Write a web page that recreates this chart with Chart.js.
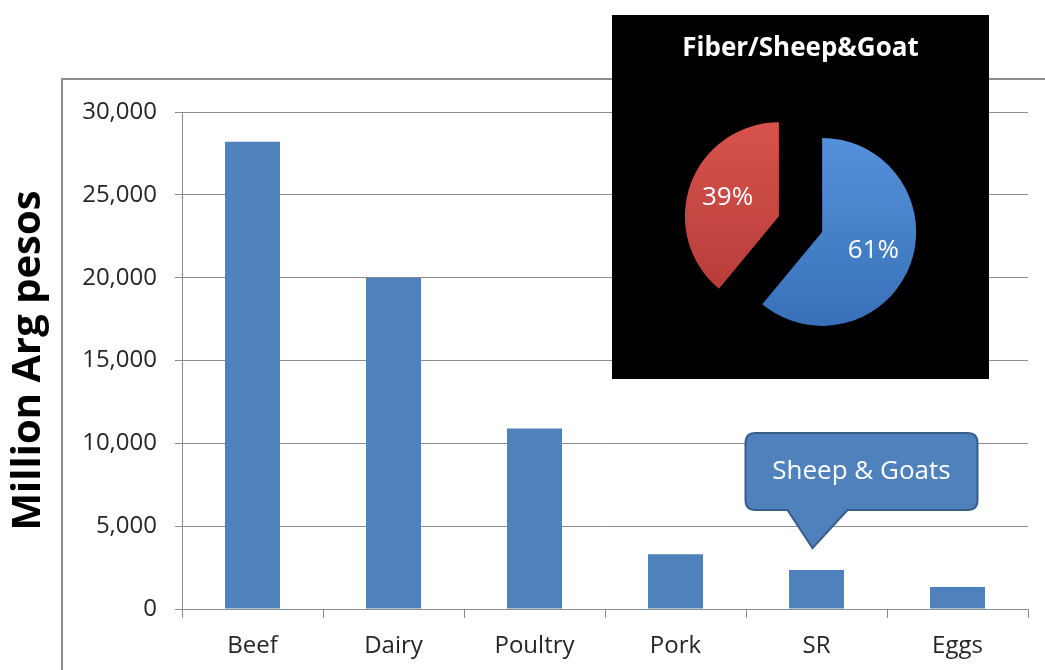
<!DOCTYPE html>
<html>
<head>
<meta charset="utf-8">
<script src="https://cdn.jsdelivr.net/npm/chart.js@4"></script>
<style>
  html, body { margin: 0; padding: 0; background: #fff; overflow: hidden; }
  #wrap { position: relative; width: 1045px; height: 670px; overflow: hidden; }
  #frame { position: absolute; left: 61px; top: 78px; width: 1100px; height: 700px; border: 2px solid #8c8c8c; }
  #barChart { position: absolute; left: 0; top: 0; }
  #pieBox { position: absolute; left: 612px; top: 15px; width: 377px; height: 364px; background: #000; }
</style>
</head>
<body>
<div id="wrap">
  <div id="frame"></div>
  <canvas id="barChart" width="1045" height="670"></canvas>
  <div id="pieBox"><canvas id="pieChart" width="377" height="364"></canvas></div>
</div>
<script>
// Livestock production value
const categories = ['Beef', 'Dairy', 'Poultry', 'Pork', 'SR', 'Eggs'];
const values = [28200, 20000, 10900, 3300, 2350, 1330];
const yTicks = [0, 5000, 10000, 15000, 20000, 25000, 30000];

// inset pie
const pieLabels = ['Meat', 'Fiber'];
const pieValues = [61, 39];
const pieTitle = 'Fiber/Sheep&Goat';

const calloutText = 'Sheep & Goats';
const calloutIndex = categories.indexOf('SR');

const barColor = '#4f81bd';
const gridColor = '#8c8c8c';
const fontFamily = '"Open Sans", "Noto Sans", sans-serif';
const explode = 23; // how far each slice is pulled out

// callout bubble pointing at the SR bar
const calloutPlugin = {
  id: 'callout',
  afterDraw(chart) {
    const bar = chart.getDatasetMeta(0).data[calloutIndex];
    const ctx = chart.ctx;
    const tipX = bar.x - 4, tipY = bar.y - 22;
    const left = tipX - 67, right = tipX + 165, bottom = tipY - 38, top = tipY - 115;
    const r = 10;
    ctx.save();
    ctx.beginPath();
    ctx.moveTo(left + r, top);
    ctx.lineTo(right - r, top);
    ctx.quadraticCurveTo(right, top, right, top + r);
    ctx.lineTo(right, bottom - r);
    ctx.quadraticCurveTo(right, bottom, right - r, bottom);
    ctx.lineTo(tipX + 35, bottom);
    ctx.lineTo(tipX, tipY);
    ctx.lineTo(tipX - 25, bottom);
    ctx.lineTo(left + r, bottom);
    ctx.quadraticCurveTo(left, bottom, left, bottom - r);
    ctx.lineTo(left, top + r);
    ctx.quadraticCurveTo(left, top, left + r, top);
    ctx.closePath();
    ctx.fillStyle = barColor;
    ctx.fill();
    ctx.lineWidth = 2;
    ctx.strokeStyle = '#385d8a';
    ctx.stroke();
    ctx.fillStyle = '#fff';
    ctx.font = '26px ' + fontFamily;
    ctx.textAlign = 'center';
    ctx.textBaseline = 'middle';
    ctx.fillText(calloutText, (left + right) / 2, (top + bottom) / 2);
    ctx.restore();
  }
};

const barChart = new Chart(document.getElementById('barChart'), {
  type: 'bar',
  data: {
    labels: categories,
    datasets: [{
      label: 'Million Arg pesos',
      data: values,
      backgroundColor: barColor,
      categoryPercentage: 1,
      barPercentage: 0.39
    }]
  },
  options: {
    responsive: false,
    animation: false,
    layout: { padding: { top: 112, right: 17, left: 0, bottom: 0 } },
    plugins: { legend: { display: false }, tooltip: { enabled: false } },
    scales: {
      x: {
        grid: { drawOnChartArea: false, drawTicks: true, tickLength: 9, color: gridColor, offset: true },
        border: { color: gridColor, width: 1 },
        ticks: { color: '#262626', padding: 14, font: { family: fontFamily, size: 24 } },
        afterFit(scale) { scale.height = 61; }
      },
      y: {
        min: 0,
        max: 30000,
        afterBuildTicks(scale) { scale.ticks = yTicks.map(v => ({ value: v })); },
        grid: { color: gridColor, tickLength: 7 },
        border: { color: gridColor, width: 1 },
        ticks: {
          color: '#262626',
          padding: 18,
          font: { family: fontFamily, size: 24 },
          callback: v => v.toLocaleString('en-US')
        },
        title: {
          display: true,
          text: 'Million Arg pesos',
          color: '#000',
          padding: { top: 5, bottom: 0 },
          font: { family: fontFamily, size: 40, weight: 'bold' }
        },
        afterFit(scale) { scale.width = 182; }
      }
    }
  },
  plugins: [calloutPlugin]
});

// pie slice shading, top lighter than bottom
const pieShades = [['#5d9be6', '#2f66ad'], ['#e35a55', '#a8332f']];
const pieFill = (c) => {
  const pair = pieShades[c.dataIndex % pieShades.length];
  const area = c.chart.chartArea;
  if (!area) return pair[0];
  const g = c.chart.ctx.createLinearGradient(0, area.top, 0, area.bottom);
  g.addColorStop(0, pair[0]);
  g.addColorStop(1, pair[1]);
  return g;
};

// exploded pie: draw each arc shifted out along its mid angle
const explodePlugin = {
  id: 'explode',
  beforeDatasetDraw(chart, args) {
    const ctx = chart.ctx;
    args.meta.data.forEach(arc => {
      const mid = (arc.startAngle + arc.endAngle) / 2;
      ctx.save();
      ctx.translate(Math.cos(mid) * explode, Math.sin(mid) * explode);
      arc.draw(ctx, chart.chartArea);
      ctx.restore();
    });
    return false;
  }
};

const pieLabelPlugin = {
  id: 'pieLabels',
  afterDatasetsDraw(chart) {
    const ctx = chart.ctx;
    const total = pieValues.reduce((a, b) => a + b, 0);
    ctx.save();
    ctx.fillStyle = '#fff';
    ctx.font = '26px ' + fontFamily;
    ctx.textAlign = 'center';
    ctx.textBaseline = 'middle';
    chart.getDatasetMeta(0).data.forEach((arc, i) => {
      const mid = (arc.startAngle + arc.endAngle) / 2;
      const d = explode + arc.outerRadius * 0.58;
      ctx.fillText(Math.round(pieValues[i] / total * 100) + '%', arc.x + Math.cos(mid) * d, arc.y + Math.sin(mid) * d);
    });
    ctx.restore();
  }
};

const pieChart = new Chart(document.getElementById('pieChart'), {
  type: 'pie',
  data: {
    labels: pieLabels,
    datasets: [{
      data: pieValues,
      backgroundColor: pieFill,
      borderWidth: 0
    }]
  },
  options: {
    responsive: false,
    animation: false,
    radius: 94,
    layout: { padding: 0 },
    plugins: {
      legend: { display: false },
      tooltip: { enabled: false },
      title: {
        display: true,
        text: pieTitle,
        color: '#fff',
        padding: { top: 18, bottom: 5 },
        font: { family: fontFamily, size: 26, weight: 'bold', lineHeight: 1.2 }
      }
    }
  },
  plugins: [explodePlugin, pieLabelPlugin]
});
</script>
</body>
</html>
